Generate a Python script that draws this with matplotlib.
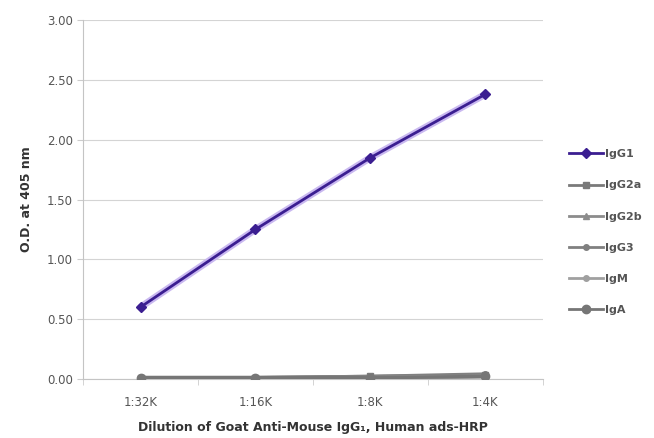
import matplotlib.pyplot as plt
import numpy as np

# Data
dilutions = ['1:32K', '1:16K', '1:8K', '1:4K']
igg1 = [0.60, 1.25, 1.85, 2.38]
igg2a = [0.01, 0.01, 0.02, 0.03]
igg2b = [0.01, 0.01, 0.01, 0.02]
igg3 = [0.01, 0.01, 0.02, 0.04]
igm = [0.01, 0.01, 0.01, 0.02]
iga = [0.01, 0.01, 0.01, 0.02]

series = [
    ('IgG1', igg1, '#3b1e91', 'D', 5),
    ('IgG2a', igg2a, '#7a7a7a', 's', 5),
    ('IgG2b', igg2b, '#8c8c8c', '^', 5),
    ('IgG3', igg3, '#808080', 'o', 4),
    ('IgM', igm, '#a0a0a0', 'o', 4),
    ('IgA', iga, '#767676', 'o', 6),
]

fig = plt.figure(figsize=(6.54, 4.38), dpi=100)
ax = fig.add_axes([0.127, 0.135, 0.703, 0.819])

x = np.arange(len(dilutions))
# draw grey series first, IgG1 on top
for name, vals, col, mk, ms in series[1:]:
    ax.plot(x, vals, color=col, marker=mk, markersize=ms, linewidth=2.5,
            label=name, zorder=3)
name, vals, col, mk, ms = series[0]
ax.plot(x, vals, color='#c9b8f0', linewidth=5, zorder=4, solid_capstyle='round')
ax.plot(x, vals, color=col, marker=mk, markersize=ms, linewidth=2,
        label=name, zorder=5)

ax.set_xlim(-0.5, len(dilutions) - 0.5)
ax.set_ylim(0, 3.0)
ax.set_yticks(np.arange(0, 3.01, 0.5))
ax.set_yticklabels([f'{v:.2f}' for v in np.arange(0, 3.01, 0.5)])
ax.set_xticks(x)
ax.set_xticklabels(dilutions)
ax.set_xticks(np.arange(-0.5, len(dilutions), 1), minor=True)
ax.tick_params(axis='x', which='major', length=0, pad=12, labelsize=8.5, colors='#555555')
ax.tick_params(axis='x', which='minor', length=4, color='#cccccc')
ax.tick_params(axis='y', length=4, color='#cccccc', labelsize=8.5, colors='#555555')

ax.grid(axis='y', color='#d4d4d4', linewidth=0.8)
ax.set_axisbelow(True)
for s in ['top', 'right']:
    ax.spines[s].set_visible(False)
for s in ['left', 'bottom']:
    ax.spines[s].set_color('#c4c4c4')

ax.set_ylabel('O.D. at 405 nm', fontsize=9, fontweight='bold', color='#333333', labelpad=10)
ax.set_xlabel('Dilution of Goat Anti-Mouse IgG\u2081, Human ads-HRP', fontsize=9,
              fontweight='bold', color='#333333', labelpad=9)

handles, labels = ax.get_legend_handles_labels()
order = ['IgG1', 'IgG2a', 'IgG2b', 'IgG3', 'IgM', 'IgA']
hmap = dict(zip(labels, handles))
leg = fig.legend([hmap[k] for k in order], order, loc='center left',
                 bbox_to_anchor=(0.855, 0.47), frameon=False, fontsize=8,
                 labelspacing=1.9, handlelength=3.0, handletextpad=0.2,
                 labelcolor='#555555')
for t in leg.get_texts():
    t.set_fontweight('bold')
for h in leg.get_lines():
    h.set_linewidth(2)

fig.savefig('out.png', dpi=100)
